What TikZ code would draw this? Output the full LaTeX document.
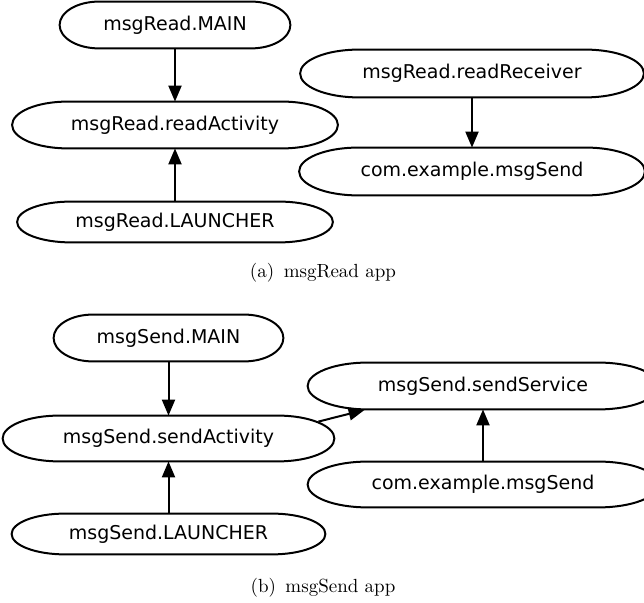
\documentclass[tikz,border=0pt]{standalone}
\usepackage{fontspec}
\newfontfamily\graphfont{DejaVu Sans}
\usetikzlibrary{arrows.meta, calc}

\begin{document}
\begin{tikzpicture}[x=0.5pt, y=-0.5pt,
  app/.style={font=\graphfont\fontsize{9.5}{11}\selectfont, inner sep=0pt},
  flow/.style={line width=1pt, -{Triangle[length=8pt, width=6.5pt]}},
  subcap/.style={anchor=base, font=\fontsize{9.5}{11}\selectfont}]
  \useasboundingbox (0,0) rectangle (644,603);
  \clip (0,0) rectangle (644,603);
  % (a) msgRead app
  \node[app, minimum width=115pt, minimum height=23pt] (rmain) at (175,25) {msgRead.MAIN};
  \node[app, minimum width=162.5pt, minimum height=23pt] (ract) at (175,125) {msgRead.readActivity};
  \node[app, minimum width=157.5pt, minimum height=20pt] (rlaunch) at (175,222) {msgRead.LAUNCHER};
  \node[app, minimum width=171.5pt, minimum height=23.5pt] (rrecv) at (472,73.5) {msgRead.readReceiver};
  \node[app, minimum width=172.5pt, minimum height=23.5pt] (rsend) at (472,171.5) {com.example.msgSend};
  \node[subcap] (capa) at (323,278) {(a)\enspace msgRead app};
  % (b) msgSend app
  \node[app, minimum width=114.5pt, minimum height=23pt] (smain) at (168.5,338) {msgSend.MAIN};
  \node[app, minimum width=165.5pt, minimum height=22.5pt] (sact) at (168.5,438.5) {msgSend.sendActivity};
  \node[app, minimum width=156.5pt, minimum height=20pt] (slaunch) at (168.5,534) {msgSend.LAUNCHER};
  \node[app, minimum width=175pt, minimum height=23pt] (sserv) at (483,386) {msgSend.sendService};
  \node[app, minimum width=175pt, minimum height=22.5pt] (ssend) at (483,484.5) {com.example.msgSend};
  \node[subcap] (capb) at (323,593) {(b)\enspace msgSend app};
  % oval outlines
  \foreach \nd in {rmain,ract,rlaunch,rrecv,rsend,smain,sact,slaunch,sserv,ssend}
    \draw[line width=1pt] let \p1=(\nd.north west), \p2=(\nd.south east),
      \n1={0.17*(\x2-\x1)}, \n2={0.5*(\y1-\y2)} in
      (\x1+\n1*1pt,\y1) -- (\x2-\n1*1pt,\y1)
      arc[start angle=90, end angle=-90, x radius=\n1*1pt, y radius=\n2*1pt]
      -- (\x1+\n1*1pt,\y2)
      arc[start angle=270, end angle=90, x radius=\n1*1pt, y radius=\n2*1pt] -- cycle;
  % intents
  \draw[flow] (rmain.south) -- (ract.north);
  \draw[flow] (rlaunch.north) -- (ract.south);
  \draw[flow] (rrecv.south) -- (rsend.north);
  \draw[flow] (smain.south) -- (sact.north);
  \draw[flow] (slaunch.north) -- (sact.south);
  \draw[flow] (ssend.north) -- (sserv.south);
  \draw[flow] ([xshift=-8pt, yshift=-3pt]sact.north east) -- ([xshift=28.5pt, yshift=-0.25pt]sserv.south west);
\end{tikzpicture}
\end{document}
